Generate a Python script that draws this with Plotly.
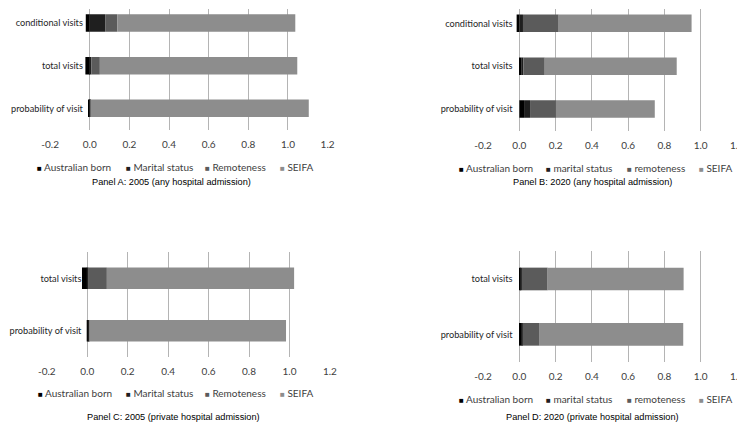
import plotly.graph_objects as go

OFF = 8  # the page body keeps its default 8px margin
W, H = 745 - OFF, 428 - OFF

# categories listed bottom -> top
categories_3 = ['probability of visit', 'total visits', 'conditional visits']
categories_2 = ['probability of visit', 'total visits']

names_upper = ['Australian born', 'Marital status', 'Remoteness', 'SEIFA']
names_lower = ['Australian born', 'marital status', 'remoteness', 'SEIFA']

# Panel A: 2005 (any hospital admission)
a_australian = [-0.005, -0.022, -0.020]
a_marital = [0.003, 0.008, 0.078]
a_remote = [0.002, 0.043, 0.061]
a_seifa = [1.100, 0.996, 0.898]

# Panel B: 2020 (any hospital admission)
b_australian = [0.026, 0.010, -0.015]
b_marital = [0.033, 0.012, 0.020]
b_remote = [0.143, 0.118, 0.197]
b_seifa = [0.545, 0.728, 0.733]

# Panel C: 2005 (private hospital admission)
c_australian = [0.004, -0.026]
c_marital = [0.006, 0.007]
c_remote = [0.000, 0.090]
c_seifa = [0.973, 0.926]

# Panel D: 2020 (private hospital admission)
d_australian = [0.010, 0.005]
d_marital = [0.008, 0.008]
d_remote = [0.094, 0.143]
d_seifa = [0.792, 0.750]

tick_vals = [-0.2, 0.0, 0.2, 0.4, 0.6, 0.8, 1.0, 1.2]
tick_text = ['-0.2', '0.0', '0.2', '0.4', '0.6', '0.8', '1.0', '1.2']

colors = ['#000000', '#1f1f1f', '#5b5b5b', '#8d8d8d']

label_font = dict(family='Lato, Carlito, sans-serif', size=10, color='#404040')
cat_font = dict(family='Lato, Carlito, sans-serif', size=9.2, color='#262626')
title_font = dict(family='Liberation Sans, Arial, sans-serif', size=9.2, color='#000000')


def fx(px):
    return (px - OFF) / W


def fy(py):
    return 1 - (py - OFF) / H


# geometry in screen pixels: plot x span, plot y span, legend y, legend square x's, title centre
panels = [
    dict(cats=categories_3, names=names_upper,
         values=[a_australian, a_marital, a_remote, a_seifa],
         title='Panel A: 2005 (any hospital admission)',
         xdom=(50, 327.7), ydom=(1.7, 129.7), lab_gap=5,
         leg_y=167, leg_x=[36, 125, 204, 278.7], title_xy=(171, 182)),
    dict(cats=categories_3, names=names_lower,
         values=[b_australian, b_marital, b_remote, b_seifa],
         title='Panel B: 2020 (any hospital admission)',
         xdom=(483, 737), ydom=(1.9, 130.5), lab_gap=5,
         leg_y=168, leg_x=[458, 545.3, 626.3, 698], title_xy=(592.5, 182.3)),
    dict(cats=categories_2, names=names_upper,
         values=[c_australian, c_marital, c_remote, c_seifa],
         title='Panel C: 2005 (private hospital admission)',
         xdom=(46.7, 330), ydom=(252.1, 356.9), lab_gap=4,
         leg_y=393.3, leg_x=[36.7, 125, 204, 278.7], title_xy=(173, 417.3)),
    dict(cats=categories_2, names=names_lower,
         values=[d_australian, d_marital, d_remote, d_seifa],
         title='Panel D: 2020 (private hospital admission)',
         xdom=(483, 737), ydom=(251.3, 362), lab_gap=5,
         leg_y=399, leg_x=[458, 545.3, 626.3, 698], title_xy=(592, 417)),
]

x_range = [-0.2005, 1.2005]

fig = go.Figure()
layout = {}
annotations = []

for i, p in enumerate(panels, start=1):
    sfx = '' if i == 1 else str(i)
    for name, vals, col in zip(p['names'], p['values'], colors):
        fig.add_trace(go.Bar(
            y=p['cats'], x=vals, orientation='h', name=name,
            marker=dict(color=col, line=dict(width=0)),
            xaxis='x' + sfx, yaxis='y' + sfx, showlegend=False,
        ))

    x0, x1 = p['xdom']
    top, bot = p['ydom']
    n = len(p['cats'])
    step = (bot - top) / n
    dtop = max(top, OFF + 0.5)
    y_range = [-0.5, -0.5 + (bot - dtop) / step]
    zero_px = x0 + (0 - x_range[0]) / (x_range[1] - x_range[0]) * (x1 - x0)

    layout['xaxis' + sfx] = dict(
        domain=[fx(x0), fx(x1)], range=x_range, anchor='y' + sfx,
        tickvals=tick_vals, ticktext=tick_text,
        showgrid=True, gridcolor='#b4b4b4', gridwidth=1,
        zeroline=False, showline=False,
        ticks='outside', ticklen=5, tickcolor='rgba(0,0,0,0)',
        tickfont=label_font, fixedrange=True,
    )
    layout['yaxis' + sfx] = dict(
        domain=[fy(bot), fy(dtop)], range=y_range,
        anchor='free', position=fx(zero_px),
        showgrid=False, zeroline=False, showline=False,
        ticks='outside', ticklen=p['lab_gap'], tickcolor='rgba(0,0,0,0)',
        tickfont=cat_font, fixedrange=True,
    )

    # legend row
    for name, col, lx in zip(p['names'], colors, p['leg_x']):
        annotations.append(dict(
            x=fx(lx), y=fy(p['leg_y']), xref='paper', yref='paper',
            xanchor='left', yanchor='middle', showarrow=False, borderpad=0,
            text=f'<span style="color:{col};font-size:8px">■</span> {name}',
            font=label_font,
        ))

    tx, ty = p['title_xy']
    annotations.append(dict(
        x=fx(tx), y=fy(ty), xref='paper', yref='paper',
        xanchor='center', yanchor='middle', showarrow=False,
        text=p['title'], font=title_font,
    ))

fig.update_layout(
    width=W, height=H,
    margin=dict(l=0, r=0, t=0, b=0),
    template='none',
    paper_bgcolor='white', plot_bgcolor='white',
    barmode='relative', bargap=0.59,
    showlegend=False,
    annotations=annotations,
    **layout,
)

fig.write_html("out.html")
